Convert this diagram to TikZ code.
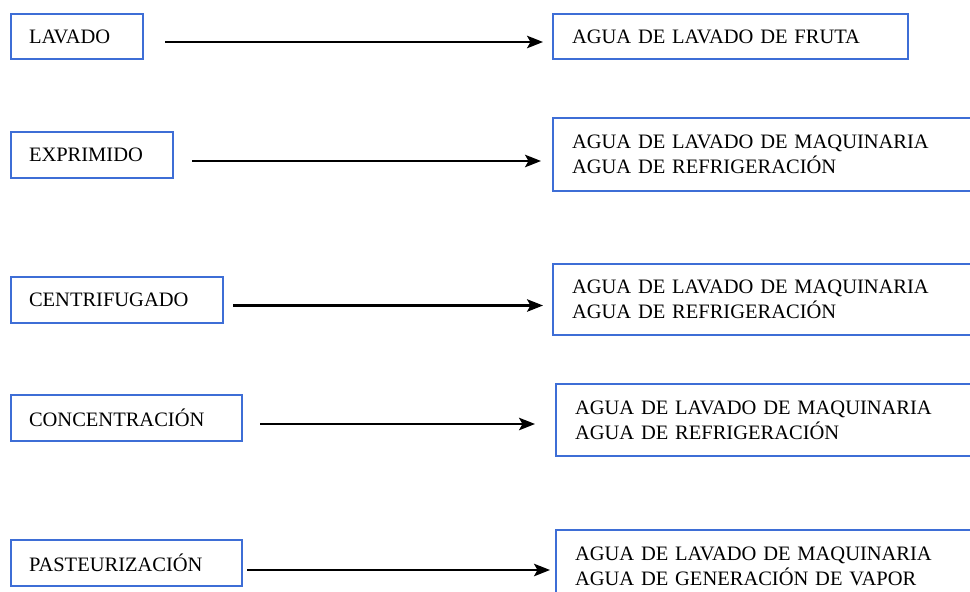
\documentclass[tikz,border=0pt]{standalone}
\usepackage{fontspec}
\setmainfont{Liberation Serif}
\usetikzlibrary{arrows.meta}
\definecolor{boxblue}{RGB}{62,110,214}
\begin{document}
\begin{tikzpicture}[x=1pt,y=-1pt,
  every node/.style={font=\fontsize{20.5}{25}\selectfont},
  procbox/.style={draw=boxblue, line width=2pt, rectangle, anchor=north west,
    align=left, inner xsep=18pt, inner ysep=0pt},
  wastebox/.style={draw=boxblue, line width=2pt, rectangle, anchor=north west,
    align=left, inner xsep=19pt, inner ysep=0pt},
  arr/.style={line width=2.2pt, -{Stealth[length=16pt,width=12.5pt,inset=3.5pt]}}]
\useasboundingbox (0,0) rectangle (970,592);
\clip (0,0) rectangle (970,592);
\fill[white] (0,0) rectangle (970,592);
% process boxes
\node[procbox, text width=96pt, minimum height=45pt] (L1) at (10,13) {LAVADO};
\node[procbox, text width=126pt, minimum height=46pt] (L2) at (10,131) {EXPRIMIDO};
\node[procbox, text width=176pt, minimum height=46pt] (L3) at (10,276) {CENTRIFUGADO};
\node[procbox, text width=195pt, minimum height=46pt] (L4) at (10,394) {CONCENTRACIÓN};
\node[procbox, text width=195pt, minimum height=46pt] (L5) at (10,539) {PASTEURIZACIÓN};
% waste water boxes
\node[wastebox, text width=317pt, minimum height=45pt] (R1) at (552,13) {AGUA DE LAVADO DE FRUTA};
\node[wastebox, text width=395pt, minimum height=73pt] (R2) at (552,117) {AGUA DE LAVADO DE MAQUINARIA\\AGUA DE REFRIGERACIÓN};
\node[wastebox, text width=395pt, minimum height=71pt] (R3) at (552,263) {AGUA DE LAVADO DE MAQUINARIA\\AGUA DE REFRIGERACIÓN};
\node[wastebox, text width=392pt, minimum height=72pt] (R4) at (555,383) {AGUA DE LAVADO DE MAQUINARIA\\AGUA DE REFRIGERACIÓN};
\node[wastebox, text width=392pt, minimum height=73pt] (R5) at (555,529) {AGUA DE LAVADO DE MAQUINARIA\\AGUA DE GENERACIÓN DE VAPOR};
% arrow start points
\coordinate (s1) at ([xshift=21pt,yshift=-5.5pt]L1.east);
\coordinate (s2) at ([xshift=18pt,yshift=-6pt]L2.east);
\coordinate (s3) at ([xshift=9pt,yshift=-5.5pt]L3.east);
\coordinate (s4) at ([xshift=17pt,yshift=-6pt]L4.east);
\coordinate (s5) at ([xshift=4pt,yshift=-7pt]L5.east);
% arrows
\draw[arr, shorten >=9pt] (s1) -- (s1 -| R1.west);
\draw[arr, shorten >=11pt] (s2) -- (s2 -| R2.west);
\draw[arr, shorten >=9pt] (s3) -- (s3 -| R3.west);
\draw[arr, shorten >=20pt] (s4) -- (s4 -| R4.west);
\draw[arr, shorten >=5pt] (s5) -- (s5 -| R5.west);
\end{tikzpicture}
\end{document}
